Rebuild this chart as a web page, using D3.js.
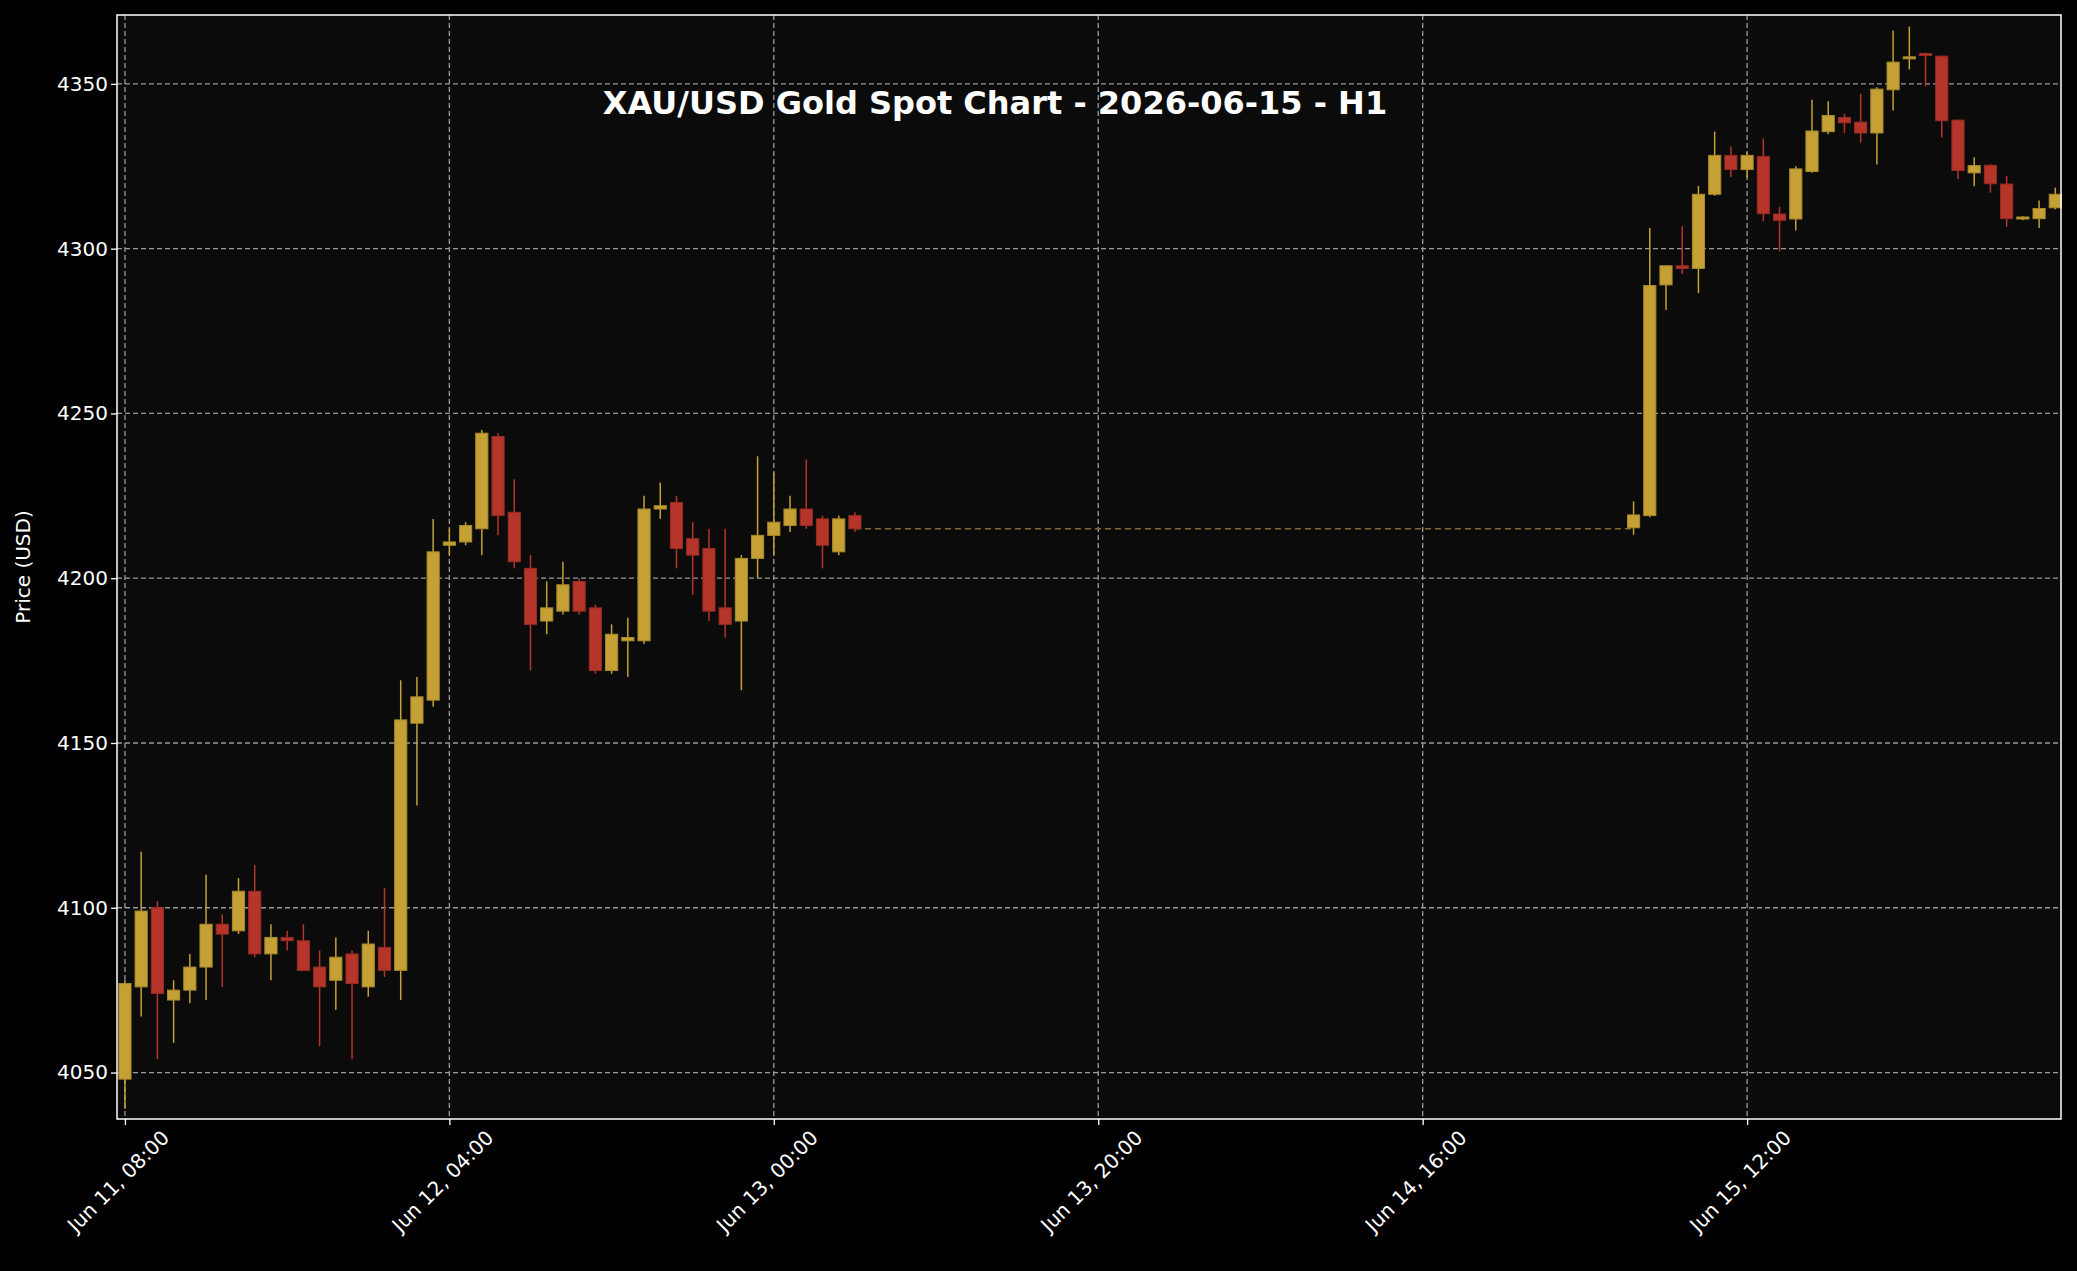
<!DOCTYPE html>
<html>
<head>
<meta charset="utf-8">
<script src="https://cdn.jsdelivr.net/npm/d3@7"></script>
<style>
  body { margin: 0; background: #000; }
  text { font-family: "DejaVu Sans", sans-serif; }
</style>
</head>
<body>
<script>
// hourly candles, hour offset from Jun 11 08:00
var hours = [];
for (var h = 0; h <= 45; h++) hours.push(h);
for (var h2 = 93; h2 <= 119; h2++) hours.push(h2);

var opens = [4048,4076,4100,4072,4075,4082,4095,4093,4105,4086,4091,4090,4082,4078,4086,4076,4088,4081,4156,4163,
  4210,4211,4215,4243,4220,4203,4187,4190,4199,4191,4172,4181,4181,4221,4223,4212,4209,4191,4187,4206,
  4213,4216,4221,4218,4208,4219,
  4215.3,4219,4289,4294.8,4294,4316.5,4328.3,4324,4328,4310.5,4309,4323.4,4335.5,4339.8,4338.4,4335.1,4348.2,
  4358,4359.2,4358.4,4339,4323,4325.3,4319.6,4309,4309.1,4312.4];
var highs = [4078,4117,4102,4078,4086,4110,4098,4109,4113,4095,4093,4095,4087,4091,4087,4093,4106,4169,4170,4218,
  4215,4217,4245,4244,4230,4207,4199,4205,4200,4192,4186,4188,4225,4229,4225,4217,4215,4215,4207,4237,
  4232,4225,4236,4219,4219,4220,
  4223.3,4306.3,4295,4306.8,4319,4335.5,4331,4329.3,4333.4,4312.7,4325,4345.2,4344.7,4340.9,4347,4349,4366.2,
  4367.4,4359.5,4358.6,4339.2,4327.7,4325.6,4322.1,4309.8,4314.6,4318.5];
var lows = [4039,4067,4054,4059,4071,4072,4076,4092,4085,4078,4087,4081,4058,4069,4054,4073,4079,4072,4131,4161,
  4207,4210,4207,4213,4203,4172,4183,4189,4189,4171,4171,4170,4180,4218,4203,4195,4187,4182,4166,4200,
  4207,4214,4215,4203,4207,4214,
  4213.2,4218.5,4281.4,4292.4,4286.5,4316,4321.7,4321.6,4308.3,4299.2,4305.5,4323,4334.7,4335,4332.2,4325.5,4341.9,
  4354.4,4349.3,4333.7,4321.1,4318.9,4317,4306.6,4308.6,4306.3,4311.9];
var closes = [4077,4099,4074,4075,4082,4095,4092,4105,4086,4091,4090,4081,4076,4085,4077,4089,4081,4157,4164,4208,
  4211,4216,4244,4219,4205,4186,4191,4198,4190,4172,4183,4182,4221,4222,4209,4207,4190,4186,4206,4213,
  4217,4221,4216,4210,4218,4215,
  4219.2,4288.8,4294.8,4294,4316.5,4328.3,4324,4328.3,4310.6,4308.6,4324.2,4335.7,4340.4,4338.2,4335.1,4348.4,4356.6,
  4358.2,4358.9,4338.8,4323.7,4325.2,4319.7,4309.1,4309.6,4312.2,4316.5];

// flat weekend/gap segment
var gapHours = [45, 93];
var gapPrice = 4215;

var yTicks = [4050,4100,4150,4200,4250,4300,4350];
var xTickHours = [0,20,40,60,80,100];

var W = 2077, H = 1271;
var m = { left: 117, right: 16, top: 15, bottom: 152 };
var startDate = new Date(2026, 5, 11, 8, 0);
var toDate = function (hr) { return new Date(startDate.getTime() + hr * 3600000); };

var svg = d3.select("body").append("svg").attr("width", W).attr("height", H);
svg.append("rect").attr("width", W).attr("height", H).attr("fill", "#000");

var x = d3.scaleTime()
  .domain([toDate(-0.49), toDate(119.35)])
  .range([m.left, W - m.right]);
var y = d3.scaleLinear()
  .domain([4035.9, 4370.9])
  .range([H - m.bottom, m.top]);

svg.append("rect")
  .attr("x", m.left).attr("y", m.top)
  .attr("width", W - m.left - m.right).attr("height", H - m.top - m.bottom)
  .attr("fill", "#0b0b0b");

// grid
var grid = svg.append("g");
grid.selectAll(".gy").data(yTicks).enter().append("line")
  .attr("x1", m.left).attr("x2", W - m.right)
  .attr("y1", function (d) { return y(d); }).attr("y2", function (d) { return y(d); })
  .attr("stroke", "#9a9a9a").attr("stroke-width", 1.3).attr("stroke-dasharray", "5,3");
grid.selectAll(".gx").data(xTickHours).enter().append("line")
  .attr("y1", m.top).attr("y2", H - m.bottom)
  .attr("x1", function (d) { return x(toDate(d)); }).attr("x2", function (d) { return x(toDate(d)); })
  .attr("stroke", "#9a9a9a").attr("stroke-width", 1.3).attr("stroke-dasharray", "5,3");

// gap line
svg.append("line")
  .attr("x1", x(toDate(gapHours[0]))).attr("x2", x(toDate(gapHours[1])))
  .attr("y1", y(gapPrice)).attr("y2", y(gapPrice))
  .attr("stroke", "#8a6a2e").attr("stroke-width", 1.5).attr("stroke-dasharray", "6,4");

// candles
var candles = hours.map(function (hr, i) {
  return { t: toDate(hr), o: opens[i], h: highs[i], l: lows[i], c: closes[i] };
});
var gold = "#c4a035", red = "#b5352a";
var bw = x(toDate(0.75)) - x(toDate(0));
var cg = svg.append("g");
cg.selectAll(".wick").data(candles).enter().append("line")
  .attr("x1", function (d) { return x(d.t); }).attr("x2", function (d) { return x(d.t); })
  .attr("y1", function (d) { return y(d.h); }).attr("y2", function (d) { return y(d.l); })
  .attr("stroke", function (d) { return d.c >= d.o ? gold : red; }).attr("stroke-width", 1.5);
cg.selectAll(".body").data(candles).enter().append("rect")
  .attr("x", function (d) { return x(d.t) - bw / 2; })
  .attr("width", bw)
  .attr("y", function (d) { return y(Math.max(d.o, d.c)); })
  .attr("height", function (d) { return Math.max(2, Math.abs(y(d.o) - y(d.c))); })
  .attr("fill", function (d) { return d.c >= d.o ? gold : red; })
  .attr("stroke", function (d) { return d.c >= d.o ? "#a88a2c" : "#962c23"; }).attr("stroke-width", 1);

// axes
var fmt = d3.timeFormat("%b %d, %H:%M");
var xAxis = svg.append("g")
  .attr("transform", "translate(0," + (H - m.bottom) + ")")
  .call(d3.axisBottom(x).tickValues(xTickHours.map(toDate)).tickFormat(fmt).tickSize(6));
xAxis.selectAll("text")
  .attr("fill", "#fff").style("font-size", "20px")
  .attr("text-anchor", "end").attr("x", 0).attr("y", 0).attr("dy", "0.35em")
  .attr("transform", "translate(40,15) rotate(-45)");
var yAxis = svg.append("g")
  .attr("transform", "translate(" + m.left + ",0)")
  .call(d3.axisLeft(y).tickValues(yTicks).tickFormat(d3.format("d")).tickSize(6));
yAxis.selectAll("text").attr("fill", "#fff").style("font-size", "20px");
[xAxis, yAxis].forEach(function (a) {
  a.select(".domain").remove();
  a.selectAll("line").attr("stroke", "#fff").attr("stroke-width", 1.3);
});

// frame
svg.append("rect")
  .attr("x", m.left).attr("y", m.top)
  .attr("width", W - m.left - m.right).attr("height", H - m.top - m.bottom)
  .attr("fill", "none").attr("stroke", "#fff").attr("stroke-width", 1.5);

svg.append("text")
  .attr("transform", "translate(30," + ((m.top + H - m.bottom) / 2) + ") rotate(-90)")
  .attr("text-anchor", "middle").attr("fill", "#fff").style("font-size", "20px")
  .text("Price (USD)");

svg.append("text")
  .attr("x", 995).attr("y", 114)
  .attr("text-anchor", "middle").attr("fill", "#fff")
  .style("font-size", "32px").style("font-weight", "bold")
  .text("XAU/USD Gold Spot Chart - 2026-06-15 - H1");
</script>
</body>
</html>
